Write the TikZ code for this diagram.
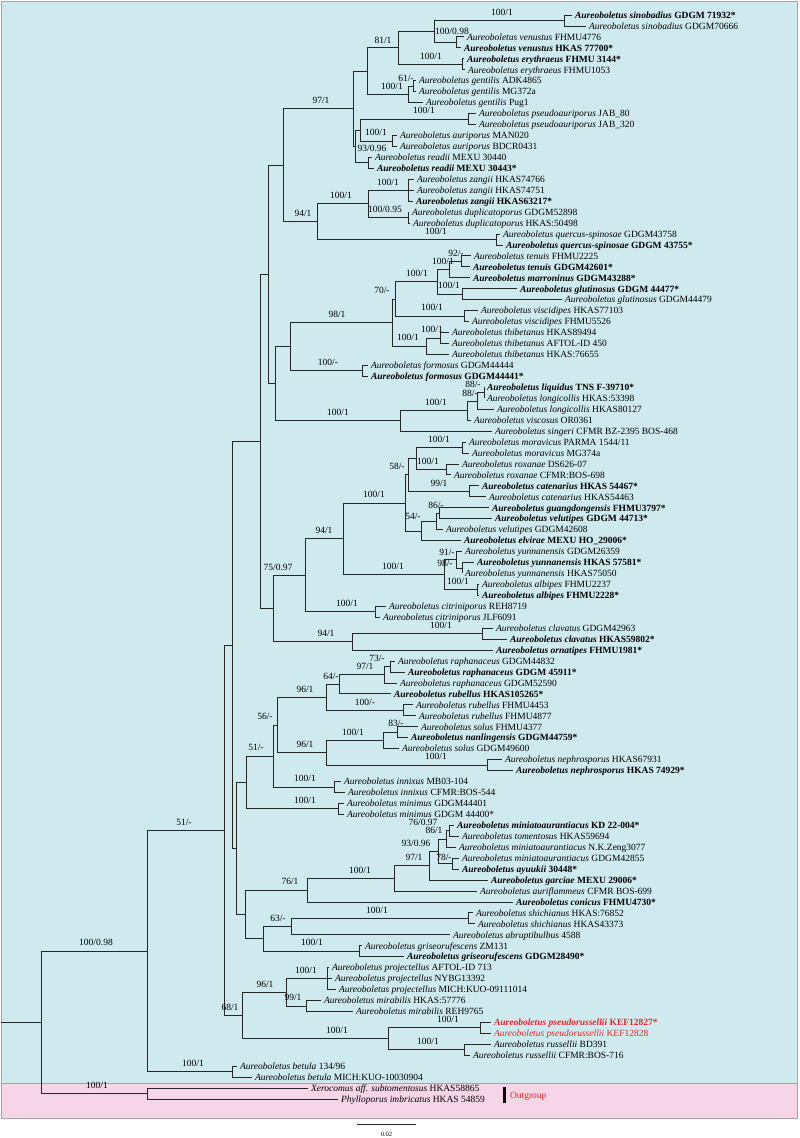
\documentclass[tikz,border=0pt]{standalone}
\usepackage{fontspec}
\setmainfont{Liberation Serif}
\definecolor{bgblue}{RGB}{206,234,239}
\definecolor{bgpink}{RGB}{246,214,230}
\definecolor{redtxt}{RGB}{232,40,45}
\definecolor{framegray}{RGB}{165,165,165}
\newcommand\treefont{\fontsize{9.5}{11}\selectfont}
\newcommand\Aun[2]{\textit{Aureoboletus #1} #2}
\newcommand\Aub[2]{\textbf{\textit{Aureoboletus #1} #2}}
\tikzset{
 br/.style={line width=0.85pt, draw=black!85},
 tip/.style={anchor=west, inner xsep=3pt, inner ysep=0pt, outer sep=0pt, text height=6.5pt, text depth=0pt, font=\treefont},
 lbl/.style={inner sep=0pt, outer sep=0pt, text height=6.5pt, text depth=0pt, font=\treefont},
}
\begin{document}
\begin{tikzpicture}[x=1pt,y=-1pt]
\useasboundingbox (0,0) rectangle (800,1138);
\fill[white] (0,0) rectangle (800,1138);
\filldraw[fill=bgblue, draw=framegray, line width=0.8pt] (1,1) rectangle (797,1083);
\filldraw[fill=bgpink, draw=framegray, line width=0.8pt] (1,1083) rectangle (797,1118);

% ---------- internal nodes ----------
\coordinate (nSino) at (564,20.48);
\coordinate (nVen) at (456,42.38);
\coordinate (n10098) at (434,31.43);
\coordinate (nEry) at (462,64.28);
\coordinate (n81) at (398,47.85);
\coordinate (n61) at (413,86.18);
\coordinate (nGen) at (408,94.39);
\coordinate (n367) at (367,71.12);
\coordinate (nPsa) at (468,119.03);
\coordinate (nAur) at (392,140.93);
\coordinate (n360) at (360,129.98);
\coordinate (nRea) at (368,162.83);
\coordinate (n355) at (355,146.4);
\coordinate (n97) at (353,108.76);
\coordinate (nZan) at (408,190.2);
\coordinate (nDup) at (408,217.58);
\coordinate (n368b) at (368,203.89);
\coordinate (nQue) at (496,239.48);
\coordinate (n94a) at (317,221.68);
\coordinate (n283) at (283,165.22);
\coordinate (nTen) at (461,261.38);
\coordinate (nTM) at (449,269.59);
\coordinate (nGlu) at (462,294.23);
\coordinate (nTMG) at (437,281.91);
\coordinate (nVis) at (464,316.13);
\coordinate (n70) at (395,299.02);
\coordinate (nThi1) at (440,338.03);
\coordinate (nThi) at (426,346.24);
\coordinate (n98) at (392,322.63);
\coordinate (nFor) at (362,370.88);
\coordinate (n290) at (290,346.75);
\coordinate (nLiq1) at (484,392.78);
\coordinate (nLiq2) at (477,400.99);
\coordinate (nLiq3) at (467,410.57);
\coordinate (nLiq) at (400,420.84);
\coordinate (n275) at (275,383.79);
\coordinate (n268) at (268,274.5);
\coordinate (nMor) at (462,447.53);
\coordinate (nRox) at (446,469.43);
\coordinate (n58) at (416,458.48);
\coordinate (nCat) at (469,491.33);
\coordinate (n408) at (408,474.9);
\coordinate (n86) at (439,513.23);
\coordinate (n86b) at (436,521.44);
\coordinate (n54) at (421,531.02);
\coordinate (n405) at (405,502.96);
\coordinate (nY2) at (462,567.98);
\coordinate (nY) at (456,559.76);
\coordinate (nAlb) at (477,589.88);
\coordinate (nYA) at (444,574.82);
\coordinate (n343) at (343,538.89);
\coordinate (nCit) at (375,611.78);
\coordinate (n305) at (305,575.33);
\coordinate (nCla) at (482,633.68);
\coordinate (n352) at (352,641.89);
\coordinate (n273) at (273,608.61);
\coordinate (n260) at (260,441.56);
\coordinate (nRap1) at (390,666.53);
\coordinate (nRap) at (384,674.74);
\coordinate (n64) at (339,684.32);
\coordinate (nRub) at (403,710.33);
\coordinate (n96a) at (326,697.32);
\coordinate (n83) at (397,732.23);
\coordinate (nSol) at (383,740.44);
\coordinate (nNep) at (487,765.08);
\coordinate (n96b) at (326,752.76);
\coordinate (n56) at (277,725.04);
\coordinate (nInn) at (334,786.98);
\coordinate (n51b) at (273,756.01);
\coordinate (nMin) at (338,808.88);
\coordinate (n246) at (246,782.44);
\coordinate (n76) at (449,830.78);
\coordinate (n86c) at (446,838.99);
\coordinate (n78) at (452,863.63);
\coordinate (n93) at (438,851.31);
\coordinate (n97b) at (429,865.68);
\coordinate (n100m) at (394,878.34);
\coordinate (n76b) at (307,890.15);
\coordinate (nShi) at (468,918.38);
\coordinate (n63) at (291,926.59);
\coordinate (nGri) at (359,951.23);
\coordinate (n263) at (263,938.91);
\coordinate (n245) at (245,914.53);
\coordinate (n236) at (236,848.49);
\coordinate (nC) at (232,645.03);
\coordinate (nPro) at (327,978.6);
\coordinate (nMir) at (306,1005.98);
\coordinate (n96c) at (286,992.29);
\coordinate (nPR) at (480,1027.88);
\coordinate (nRus) at (464,1049.78);
\coordinate (n388) at (388,1038.83);
\coordinate (n68) at (242,1015.56);
\coordinate (nB) at (224,830.3);
\coordinate (nBet) at (232,1071.68);
\coordinate (nIn) at (147,950.99);
\coordinate (nOut) at (147,1093.58);
\coordinate (nRoot) at (41,1022.28);
\coordinate (r0) at (1,1022.28);

% ---------- tips ----------
\node[tip] (t1) at (572,15) {\Aub{sinobadius}{GDGM 71932*}};
\node[tip] (t2) at (586,25.95) {\Aun{sinobadius}{GDGM70666}};
\node[tip] (t3) at (464,36.9) {\Aun{venustus}{FHMU4776}};
\node[tip] (t4) at (461,47.85) {\Aub{venustus}{HKAS 77700*}};
\node[tip] (t5) at (464,58.8) {\Aub{erythraeus}{FHMU 3144*}};
\node[tip] (t6) at (465,69.75) {\Aun{erythraeus}{FHMU1053}};
\node[tip] (t7) at (416,80.7) {\Aun{gentilis}{ADK4865}};
\node[tip] (t8) at (416,91.65) {\Aun{gentilis}{MG372a}};
\node[tip] (t9) at (423,102.6) {\Aun{gentilis}{Pug1}};
\node[tip] (t10) at (476,113.55) {\Aun{pseudoauriporus}{JAB\_80}};
\node[tip] (t11) at (476,124.5) {\Aun{pseudoauriporus}{JAB\_320}};
\node[tip] (t12) at (397,135.45) {\Aun{auriporus}{MAN020}};
\node[tip] (t13) at (397,146.4) {\Aun{auriporus}{BDCR0431}};
\node[tip] (t14) at (372,157.35) {\Aun{readii}{MEXU 30440}};
\node[tip] (t15) at (374,168.3) {\Aub{readii}{MEXU 30443*}};
\node[tip] (t16) at (414,179.25) {\Aun{zangii}{HKAS74766}};
\node[tip] (t17) at (414,190.2) {\Aun{zangii}{HKAS74751}};
\node[tip] (t18) at (413,201.15) {\Aub{zangii}{HKAS63217*}};
\node[tip] (t19) at (409,212.1) {\Aun{duplicatoporus}{GDGM52898}};
\node[tip] (t20) at (410,223.05) {\Aun{duplicatoporus}{HKAS:50498}};
\node[tip] (t21) at (500,234) {\Aun{quercus-spinosae}{GDGM43758}};
\node[tip] (t22) at (503,244.95) {\Aub{quercus-spinosae}{GDGM 43755*}};
\node[tip] (t23) at (471,255.9) {\Aun{tenuis}{FHMU2225}};
\node[tip] (t24) at (470,266.85) {\Aub{tenuis}{GDGM42601*}};
\node[tip] (t25) at (470,277.8) {\Aub{marroninus}{GDGM43288*}};
\node[tip] (t26) at (517,288.75) {\Aub{glutinosus}{GDGM 44477*}};
\node[tip] (t27) at (562,299.7) {\Aun{glutinosus}{GDGM44479}};
\node[tip] (t28) at (478,310.65) {\Aun{viscidipes}{HKAS77103}};
\node[tip] (t29) at (469,321.6) {\Aun{viscidipes}{FHMU5526}};
\node[tip] (t30) at (449,332.55) {\Aun{thibetanus}{HKAS89494}};
\node[tip] (t31) at (449,343.5) {\Aun{thibetanus}{AFTOL-ID 450}};
\node[tip] (t32) at (449,354.45) {\Aun{thibetanus}{HKAS:76655}};
\node[tip] (t33) at (368,365.4) {\Aun{formosus}{GDGM44444}};
\node[tip] (t34) at (368,376.35) {\Aub{formosus}{GDGM44441*}};
\node[tip] (t35) at (484,387.3) {\Aub{liquidus}{TNS F-39710*}};
\node[tip] (t36) at (484,398.25) {\Aun{longicollis}{HKAS:53398}};
\node[tip] (t37) at (494,409.2) {\Aun{longicollis}{HKAS80127}};
\node[tip] (t38) at (471,420.15) {\Aun{viscosus}{OR0361}};
\node[tip] (t39) at (492,431.1) {\Aun{singeri}{CFMR BZ-2395 BOS-468}};
\node[tip] (t40) at (466,442.05) {\Aun{moravicus}{PARMA 1544/11}};
\node[tip] (t41) at (469,453) {\Aun{moravicus}{MG374a}};
\node[tip] (t42) at (459,463.95) {\Aun{roxanae}{DS626-07}};
\node[tip] (t43) at (451,474.9) {\Aun{roxanae}{CFMR:BOS-698}};
\node[tip] (t44) at (479,485.85) {\Aub{catenarius}{HKAS 54467*}};
\node[tip] (t45) at (486,496.8) {\Aun{catenarius}{HKAS54463}};
\node[tip] (t46) at (489,507.75) {\Aub{guangdongensis}{FHMU3797*}};
\node[tip] (t47) at (492,518.7) {\Aub{velutipes}{GDGM 44713*}};
\node[tip] (t48) at (443,529.65) {\Aun{velutipes}{GDGM42608}};
\node[tip] (t49) at (461,540.6) {\Aub{elvirae}{MEXU HO\_29006*}};
\node[tip] (t50) at (462,551.55) {\Aun{yunnanensis}{GDGM26359}};
\node[tip] (t51) at (474,562.5) {\Aub{yunnanensis}{HKAS 57581*}};
\node[tip] (t52) at (462,573.45) {\Aun{yunnanensis}{HKAS75050}};
\node[tip] (t53) at (479,584.4) {\Aun{albipes}{FHMU2237}};
\node[tip] (t54) at (479,595.35) {\Aub{albipes}{FHMU2228*}};
\node[tip] (t55) at (386,606.3) {\Aun{citriniporus}{REH8719}};
\node[tip] (t56) at (380,617.25) {\Aun{citriniporus}{JLF6091}};
\node[tip] (t57) at (493,628.2) {\Aun{clavatus}{GDGM42963}};
\node[tip] (t58) at (507,639.15) {\Aub{clavatus}{HKAS59802*}};
\node[tip] (t59) at (493,650.1) {\Aub{ornatipes}{FHMU1981*}};
\node[tip] (t60) at (395,661.05) {\Aun{raphanaceus}{GDGM44832}};
\node[tip] (t61) at (405,672) {\Aub{raphanaceus}{GDGM 45911*}};
\node[tip] (t62) at (397,682.95) {\Aun{raphanaceus}{GDGM52590}};
\node[tip] (t63) at (391,693.9) {\Aub{rubellus}{HKAS105265*}};
\node[tip] (t64) at (413,704.85) {\Aun{rubellus}{FHMU4453}};
\node[tip] (t65) at (416,715.8) {\Aun{rubellus}{FHMU4877}};
\node[tip] (t66) at (418,726.75) {\Aun{solus}{FHMU4377}};
\node[tip] (t67) at (408,737.7) {\Aub{nanlingensis}{GDGM44759*}};
\node[tip] (t68) at (399,748.65) {\Aun{solus}{GDGM49600}};
\node[tip] (t69) at (502,759.6) {\Aun{nephrosporus}{HKAS67931}};
\node[tip] (t70) at (513,770.55) {\Aub{nephrosporus}{HKAS 74929*}};
\node[tip] (t71) at (341,781.5) {\Aun{innixus}{MB03-104}};
\node[tip] (t72) at (345,792.45) {\Aun{innixus}{CFMR:BOS-544}};
\node[tip] (t73) at (344,803.4) {\Aun{minimus}{GDGM44401}};
\node[tip] (t74) at (344,814.35) {\Aun{minimus}{GDGM 44400*}};
\node[tip] (t75) at (454,825.3) {\Aub{miniatoaurantiacus}{KD 22-004*}};
\node[tip] (t76) at (459,836.25) {\Aun{tomentosus}{HKAS59694}};
\node[tip] (t77) at (456,847.2) {\Aun{miniatoaurantiacus}{N.K.Zeng3077}};
\node[tip] (t78) at (459,858.15) {\Aun{miniatoaurantiacus}{GDGM42855}};
\node[tip] (t79) at (459,869.1) {\Aub{ayuukii}{30448*}};
\node[tip] (t80) at (488,880.05) {\Aub{garciae}{MEXU 29006*}};
\node[tip] (t81) at (477,891) {\Aun{auriflammeus}{CFMR BOS-699}};
\node[tip] (t82) at (513,901.95) {\Aub{conicus}{FHMU4730*}};
\node[tip] (t83) at (473,912.9) {\Aun{shichianus}{HKAS:76852}};
\node[tip] (t84) at (475,923.85) {\Aun{shichianus}{HKAS43373}};
\node[tip] (t85) at (450,934.8) {\Aun{abruptibulbus}{4588}};
\node[tip] (t86) at (362,945.75) {\Aun{griseorufescens}{ZM131}};
\node[tip] (t87) at (404,956.7) {\Aub{griseorufescens}{GDGM28490*}};
\node[tip] (t88) at (329,967.65) {\Aun{projectellus}{AFTOL-ID 713}};
\node[tip] (t89) at (332,978.6) {\Aun{projectellus}{NYBG13392}};
\node[tip] (t90) at (336,989.55) {\Aun{projectellus}{MICH:KUO-09111014}};
\node[tip] (t91) at (321,1000.5) {\Aun{mirabilis}{HKAS:57776}};
\node[tip] (t92) at (353,1011.45) {\Aun{mirabilis}{REH9765}};
\node[tip, text=redtxt] (t93) at (491,1022.4) {\Aub{pseudorussellii}{KEF12827*}};
\node[tip, text=redtxt] (t94) at (491,1033.35) {\Aun{pseudorussellii}{KEF12828}};
\node[tip] (t95) at (491,1044.3) {\Aun{russellii}{BD391}};
\node[tip] (t96) at (470,1055.25) {\Aun{russellii}{CFMR:BOS-716}};
\node[tip] (t97) at (237,1066.2) {\Aun{betula}{134/96}};
\node[tip] (t98) at (252,1077.15) {\Aun{betula}{MICH:KUO-10030904}};
\node[tip] (t99) at (308,1088.1) {\textit{Xerocomus aff. subtomentosus} HKAS58865};
\node[tip] (t100) at (338,1099.05) {\textit{Phylloporus imbricatus} HKAS 54859};

% ---------- branches ----------
\begin{scope}[br]
\draw (nRoot) -- (r0);
\draw (nRoot) |- (nIn);
\draw (nRoot) |- (nOut);
\draw (nOut) |- (t99.west);
\draw (nOut) |- (t100.west);
\draw (nIn) |- (nB);
\draw (nIn) |- (nBet);
\draw (nBet) |- (t97.west);
\draw (nBet) |- (t98.west);
\draw (nB) |- (nC);
\draw (nB) |- (n68);
\draw (n68) |- (n96c);
\draw (n68) |- (n388);
\draw (n96c) |- (nPro);
\draw (n96c) |- (nMir);
\draw (nPro) |- (t88.west);
\draw (nPro) |- (t89.west);
\draw (nPro) |- (t90.west);
\draw (nMir) |- (t91.west);
\draw (nMir) |- (t92.west);
\draw (n388) |- (nPR);
\draw (n388) |- (nRus);
\draw (nPR) |- (t93.west);
\draw (nPR) |- (t94.west);
\draw (nRus) |- (t95.west);
\draw (nRus) |- (t96.west);
\draw (nC) |- (n260);
\draw (nC) |- (n236);
\draw (n260) |- (n268);
\draw (n260) |- (n273);
\draw (n268) |- (n283);
\draw (n268) |- (n275);
\draw (n283) |- (n97);
\draw (n283) |- (n94a);
\draw (n97) |- (n367);
\draw (n97) |- (n355);
\draw (n367) |- (n81);
\draw (n367) |- (nGen);
\draw (n81) |- (n10098);
\draw (n81) |- (nEry);
\draw (n10098) |- (nSino);
\draw (n10098) |- (nVen);
\draw (nSino) |- (t1.west);
\draw (nSino) |- (t2.west);
\draw (nVen) |- (t3.west);
\draw (nVen) |- (t4.west);
\draw (nEry) |- (t5.west);
\draw (nEry) |- (t6.west);
\draw (nGen) |- (n61);
\draw (nGen) |- (t9.west);
\draw (n61) |- (t7.west);
\draw (n61) |- (t8.west);
\draw (n355) |- (n360);
\draw (n355) |- (nRea);
\draw (n360) |- (nPsa);
\draw (n360) |- (nAur);
\draw (nPsa) |- (t10.west);
\draw (nPsa) |- (t11.west);
\draw (nAur) |- (t12.west);
\draw (nAur) |- (t13.west);
\draw (nRea) |- (t14.west);
\draw (nRea) |- (t15.west);
\draw (n94a) |- (n368b);
\draw (n94a) |- (nQue);
\draw (n368b) |- (nZan);
\draw (n368b) |- (nDup);
\draw (nZan) |- (t16.west);
\draw (nZan) |- (t17.west);
\draw (nZan) |- (t18.west);
\draw (nDup) |- (t19.west);
\draw (nDup) |- (t20.west);
\draw (nQue) |- (t21.west);
\draw (nQue) |- (t22.west);
\draw (n275) |- (n290);
\draw (n275) |- (nLiq);
\draw (n290) |- (n98);
\draw (n290) |- (nFor);
\draw (n98) |- (n70);
\draw (n98) |- (nThi);
\draw (n70) |- (nTMG);
\draw (n70) |- (nVis);
\draw (nTMG) |- (nTM);
\draw (nTMG) |- (nGlu);
\draw (nTM) |- (nTen);
\draw (nTM) |- (t25.west);
\draw (nTen) |- (t23.west);
\draw (nTen) |- (t24.west);
\draw (nGlu) |- (t26.west);
\draw (nGlu) |- (t27.west);
\draw (nVis) |- (t28.west);
\draw (nVis) |- (t29.west);
\draw (nThi) |- (nThi1);
\draw (nThi) |- (t32.west);
\draw (nThi1) |- (t30.west);
\draw (nThi1) |- (t31.west);
\draw (nFor) |- (t33.west);
\draw (nFor) |- (t34.west);
\draw (nLiq) |- (nLiq3);
\draw (nLiq) |- (t39.west);
\draw (nLiq3) |- (nLiq2);
\draw (nLiq3) |- (t38.west);
\draw (nLiq2) |- (nLiq1);
\draw (nLiq2) |- (t37.west);
\draw (nLiq1) |- (t35.west);
\draw (nLiq1) |- (t36.west);
\draw (n273) |- (n305);
\draw (n273) |- (n352);
\draw (n305) |- (n343);
\draw (n305) |- (nCit);
\draw (n343) |- (n405);
\draw (n343) |- (nYA);
\draw (n405) |- (n408);
\draw (n405) |- (n54);
\draw (n408) |- (n58);
\draw (n408) |- (nCat);
\draw (n58) |- (nMor);
\draw (n58) |- (nRox);
\draw (nMor) |- (t40.west);
\draw (nMor) |- (t41.west);
\draw (nRox) |- (t42.west);
\draw (nRox) |- (t43.west);
\draw (nCat) |- (t44.west);
\draw (nCat) |- (t45.west);
\draw (n54) |- (n86b);
\draw (n54) |- (t49.west);
\draw (n86b) |- (n86);
\draw (n86b) |- (t48.west);
\draw (n86) |- (t46.west);
\draw (n86) |- (t47.west);
\draw (nYA) |- (nY);
\draw (nYA) |- (nAlb);
\draw (nY) |- (t50.west);
\draw (nY) |- (nY2);
\draw (nY2) |- (t51.west);
\draw (nY2) |- (t52.west);
\draw (nAlb) |- (t53.west);
\draw (nAlb) |- (t54.west);
\draw (nCit) |- (t55.west);
\draw (nCit) |- (t56.west);
\draw (n352) |- (nCla);
\draw (n352) |- (t59.west);
\draw (nCla) |- (t57.west);
\draw (nCla) |- (t58.west);
\draw (n236) |- (n246);
\draw (n236) |- (n245);
\draw (n246) |- (n51b);
\draw (n246) |- (nMin);
\draw (n51b) |- (n56);
\draw (n51b) |- (nInn);
\draw (n56) |- (n96a);
\draw (n56) |- (n96b);
\draw (n96a) |- (n64);
\draw (n96a) |- (nRub);
\draw (n64) |- (nRap);
\draw (n64) |- (t63.west);
\draw (nRap) |- (nRap1);
\draw (nRap) |- (t62.west);
\draw (nRap1) |- (t60.west);
\draw (nRap1) |- (t61.west);
\draw (nRub) |- (t64.west);
\draw (nRub) |- (t65.west);
\draw (n96b) |- (nSol);
\draw (n96b) |- (nNep);
\draw (nSol) |- (n83);
\draw (nSol) |- (t68.west);
\draw (n83) |- (t66.west);
\draw (n83) |- (t67.west);
\draw (nNep) |- (t69.west);
\draw (nNep) |- (t70.west);
\draw (nInn) |- (t71.west);
\draw (nInn) |- (t72.west);
\draw (nMin) |- (t73.west);
\draw (nMin) |- (t74.west);
\draw (n245) |- (n76b);
\draw (n245) |- (n263);
\draw (n76b) |- (n100m);
\draw (n76b) |- (t82.west);
\draw (n100m) |- (n97b);
\draw (n100m) |- (t81.west);
\draw (n97b) |- (n93);
\draw (n97b) |- (t80.west);
\draw (n93) |- (n86c);
\draw (n93) |- (n78);
\draw (n86c) |- (n76);
\draw (n86c) |- (t77.west);
\draw (n76) |- (t75.west);
\draw (n76) |- (t76.west);
\draw (n78) |- (t78.west);
\draw (n78) |- (t79.west);
\draw (n263) |- (n63);
\draw (n263) |- (nGri);
\draw (n63) |- (nShi);
\draw (n63) |- (t85.west);
\draw (nShi) |- (t83.west);
\draw (nShi) |- (t84.west);
\draw (nGri) |- (t86.west);
\draw (nGri) |- (t87.west);
\end{scope}

% ---------- support labels ----------
\node[lbl] (l1) at (502,12) {100/1};
\node[lbl] (l2) at (452,31) {100/0.98};
\node[lbl] (l3) at (383,40) {81/1};
\node[lbl] (l4) at (431,56) {100/1};
\node[lbl] (l5) at (406,78) {61/-};
\node[lbl] (l6) at (392,86) {100/1};
\node[lbl] (l7) at (321,100) {97/1};
\node[lbl] (l8) at (424,110.5) {100/1};
\node[lbl] (l9) at (376,132.5) {100/1};
\node[lbl] (l10) at (372,148.5) {93/0.96};
\node[lbl] (l11) at (388,182) {100/1};
\node[lbl] (l12) at (385,209) {100/0.95};
\node[lbl] (l13) at (341,195.5) {100/1};
\node[lbl] (l14) at (303,213) {94/1};
\node[lbl] (l15) at (436,231) {100/1};
\node[lbl] (l16) at (456,253) {92/-};
\node[lbl] (l17) at (443,261) {100/1};
\node[lbl] (l18) at (417,273.5) {100/1};
\node[lbl] (l19) at (449,285.7) {100/1};
\node[lbl] (l20) at (382,290.5) {70/-};
\node[lbl] (l21) at (432,307.6) {100/1};
\node[lbl] (l22) at (337,314) {98/1};
\node[lbl] (l23) at (432,329.5) {100/1};
\node[lbl] (l24) at (408,337.7) {100/1};
\node[lbl] (l25) at (328,362.4) {100/-};
\node[lbl] (l26) at (473,384.3) {88/-};
\node[lbl] (l27) at (470,393) {88/-};
\node[lbl] (l28) at (436,402) {100/1};
\node[lbl] (l29) at (338,412.3) {100/1};
\node[lbl] (l30) at (439,439) {100/1};
\node[lbl] (l31) at (397,466) {58/-};
\node[lbl] (l32) at (428,461) {100/1};
\node[lbl] (l33) at (439,482.8) {99/1};
\node[lbl] (l34) at (374,494.5) {100/1};
\node[lbl] (l35) at (436,505) {86/-};
\node[lbl] (l36) at (413,516) {54/-};
\node[lbl] (l37) at (324,530.4) {94/1};
\node[lbl] (l38) at (447,552) {91/-};
\node[lbl] (l39) at (445,563) {98/-};
\node[lbl] (l40) at (393,566.3) {100/1};
\node[lbl] (l41) at (458,581.4) {100/1};
\node[lbl] (l42) at (278,566.8) {75/0.97};
\node[lbl] (l43) at (347,603.3) {100/1};
\node[lbl] (l44) at (441,625.2) {100/1};
\node[lbl] (l45) at (326,633.4) {94/1};
\node[lbl] (l46) at (377,658) {73/-};
\node[lbl] (l47) at (365,666.2) {97/1};
\node[lbl] (l48) at (331,675.8) {64/-};
\node[lbl] (l49) at (305,688.8) {96/1};
\node[lbl] (l50) at (365,701.8) {100/-};
\node[lbl] (l51) at (265,716.5) {56/-};
\node[lbl] (l52) at (396,723.7) {83/-};
\node[lbl] (l53) at (353,732) {100/1};
\node[lbl] (l54) at (305,744.3) {96/1};
\node[lbl] (l55) at (256,747.5) {51/-};
\node[lbl] (l56) at (436,756.6) {100/1};
\node[lbl] (l57) at (305,778.5) {100/1};
\node[lbl] (l58) at (305,800.4) {100/1};
\node[lbl] (l59) at (184,821.8) {51/-};
\node[lbl] (l60) at (423,822.3) {76/0.97};
\node[lbl] (l61) at (434,830.5) {86/1};
\node[lbl] (l62) at (416,843.5) {93/0.96};
\node[lbl] (l63) at (414,857.2) {97/1};
\node[lbl] (l64) at (444,857) {78/-};
\node[lbl] (l65) at (360,869.8) {100/1};
\node[lbl] (l66) at (290,881.6) {76/1};
\node[lbl] (l67) at (377,909.9) {100/1};
\node[lbl] (l68) at (278,918.1) {63/-};
\node[lbl] (l69) at (312,942.7) {100/1};
\node[lbl] (l70) at (96,942.5) {100/0.98};
\node[lbl] (l71) at (306,970.1) {100/1};
\node[lbl] (l72) at (265,983.8) {96/1};
\node[lbl] (l73) at (293,997.5) {99/1};
\node[lbl] (l74) at (230,1007) {68/1};
\node[lbl] (l75) at (448,1019.4) {100/1};
\node[lbl] (l76) at (337,1030.3) {100/1};
\node[lbl] (l77) at (428,1041.3) {100/1};
\node[lbl] (l78) at (193,1063.2) {100/1};
\node[lbl] (l79) at (97,1085) {100/1};

% ---------- outgroup marker ----------
\coordinate (ogA) at (504,1087);
\coordinate (ogB) at (504,1103);
\draw[line width=3pt, black] (ogA) -- (ogB);
\node[tip, text=redtxt, inner xsep=0pt] (og) at (510,1095.5) {Outgroup};

% ---------- scale bar ----------
\coordinate (sA) at (357,1124);
\coordinate (sB) at (416,1124);
\draw[line width=0.8pt, black!85] (sA) -- (sB);
\node[inner sep=0pt, font=\fontsize{6.5}{7}\selectfont] (sl) at (386.5,1134) {0.02};
\end{tikzpicture}
\end{document}
